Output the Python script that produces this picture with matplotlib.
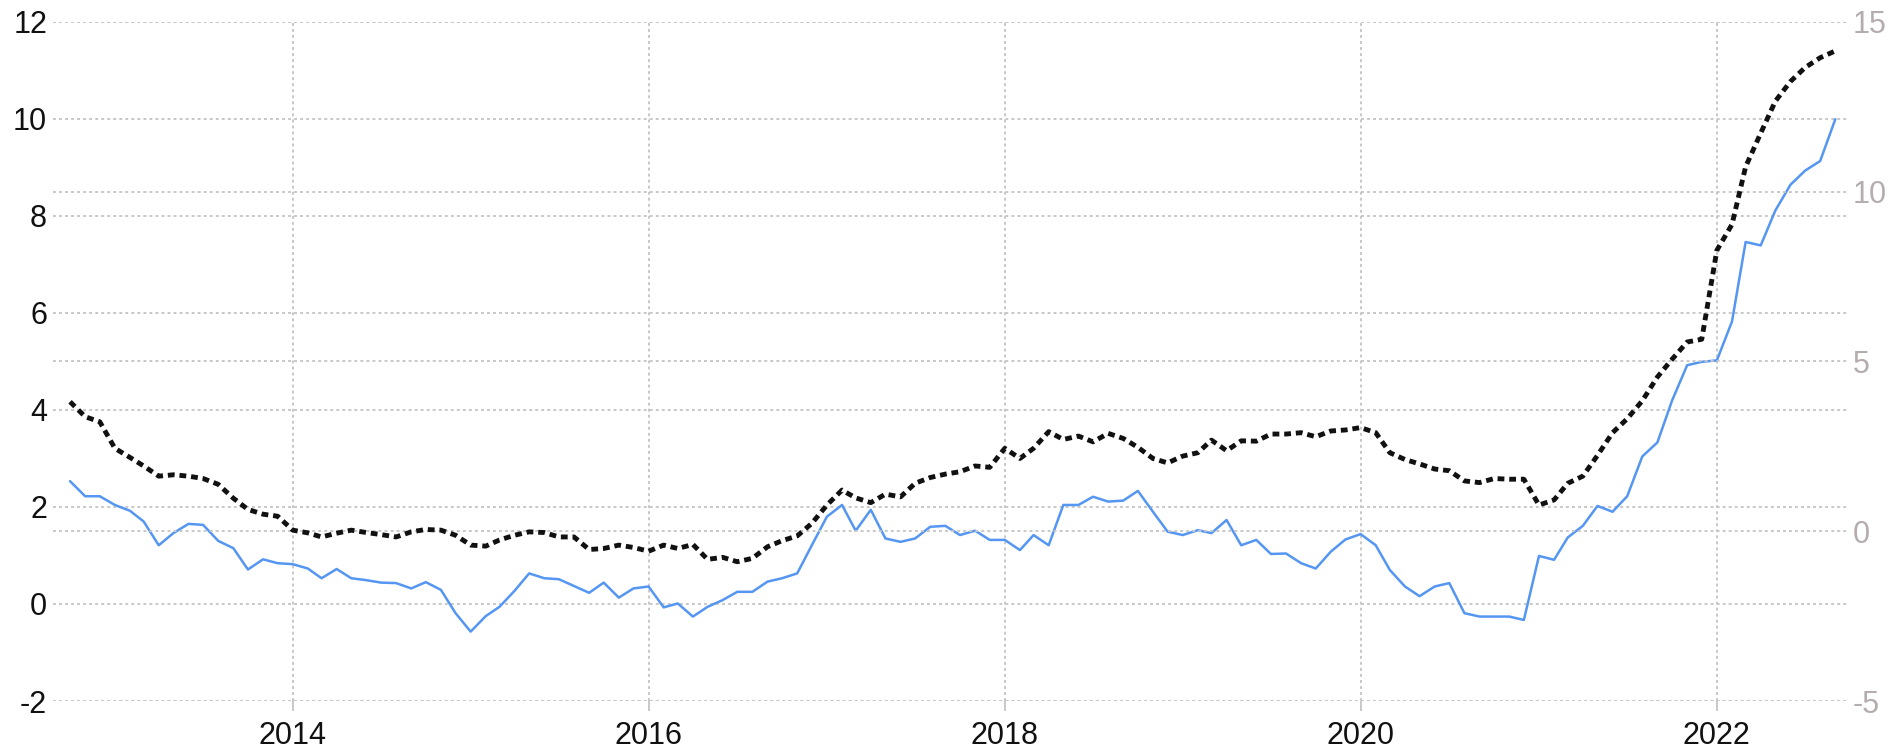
import numpy as np
import pandas as pd
import matplotlib
matplotlib.use('Agg')
import matplotlib.pyplot as plt
import matplotlib.font_manager as fm

# ---------------- data ----------------
months = pd.date_range('2012-10-01', periods=120, freq='MS')

blue_left = [
    2.53, 2.22, 2.22, 2.04, 1.92, 1.70, 1.21, 1.46, 1.65, 1.63, 1.30, 1.15, 0.71, 0.92, 0.84, 0.82, 0.73, 0.53, 0.72, 0.53,
    0.49, 0.44, 0.43, 0.32, 0.45, 0.29, -0.19, -0.57, -0.25, -0.06, 0.27, 0.63, 0.53, 0.51, 0.37, 0.23, 0.44, 0.13, 0.32, 0.36,
    -0.07, 0.01, -0.26, -0.06, 0.08, 0.25, 0.25, 0.46, 0.53, 0.63, 1.21, 1.80, 2.04, 1.51, 1.94, 1.35, 1.28, 1.35, 1.59, 1.61,
    1.42, 1.51, 1.32, 1.32, 1.11, 1.42, 1.21, 2.04, 2.04, 2.21, 2.11, 2.13, 2.33, 1.90, 1.49, 1.42, 1.52, 1.46, 1.73, 1.21,
    1.32, 1.03, 1.04, 0.84, 0.73, 1.08, 1.33, 1.44, 1.21, 0.70, 0.36, 0.16, 0.36, 0.43, -0.19, -0.26, -0.26, -0.26, -0.33, 0.99,
    0.91, 1.37, 1.61, 2.02, 1.90, 2.22, 3.04, 3.33, 4.19, 4.92, 4.99, 5.02, 5.82, 7.46, 7.39, 8.11, 8.64, 8.93, 9.13, 9.99,
]

black_right = [
    3.81, 3.37, 3.22, 2.44, 2.17, 1.92, 1.62, 1.66, 1.62, 1.55, 1.38, 0.97, 0.64, 0.50, 0.44, 0.03, -0.05, -0.17, -0.06, 0.03,
    -0.04, -0.10, -0.17, -0.02, 0.05, 0.03, -0.12, -0.41, -0.44, -0.26, -0.12, -0.02, -0.04, -0.17, -0.17, -0.54, -0.51, -0.41, -0.48, -0.59,
    -0.41, -0.51, -0.39, -0.83, -0.77, -0.90, -0.80, -0.46, -0.28, -0.14, 0.23, 0.77, 1.21, 0.98, 0.84, 1.09, 1.01, 1.41, 1.58, 1.68,
    1.75, 1.92, 1.88, 2.44, 2.14, 2.44, 2.93, 2.70, 2.80, 2.63, 2.88, 2.73, 2.47, 2.14, 2.01, 2.21, 2.31, 2.68, 2.37, 2.66,
    2.65, 2.86, 2.86, 2.90, 2.78, 2.95, 2.98, 3.05, 2.90, 2.31, 2.11, 1.98, 1.83, 1.78, 1.48, 1.43, 1.55, 1.53, 1.53, 0.77,
    0.92, 1.41, 1.62, 2.23, 2.90, 3.31, 3.84, 4.54, 5.06, 5.57, 5.65, 8.27, 9.03, 10.73, 11.72, 12.66, 13.24, 13.65, 13.94, 14.14,
]

left_ticks = [-2, 0, 2, 4, 6, 8, 10, 12]
right_ticks = [-5, 0, 5, 10, 15]
year_labels = ['2014', '2016', '2018', '2020', '2022']

# ---------------- font ----------------
available = {f.name for f in fm.fontManager.ttflist}
family = 'Liberation Sans Narrow' if 'Liberation Sans Narrow' in available else 'Liberation Sans'
plt.rcParams['font.family'] = [family, 'DejaVu Sans']
plt.rcParams['axes.unicode_minus'] = False
fsize = 26 if family == 'Liberation Sans Narrow' else 22

# ---------------- figure ----------------
fig = plt.figure(figsize=(18.98, 7.5), dpi=100)
ax = fig.add_axes([0.02792, 0.06533, 0.94521, 0.90574])
ax2 = ax.twinx()

grid_kw = dict(color='#c8c8c8', linewidth=1.4, linestyle=(0, (1.5, 1.6)))

ax.plot(months, blue_left, color='#5596f2', linewidth=1.8, zorder=3,
        solid_joinstyle='round', solid_capstyle='round')
ax2.plot(months, black_right, color='#111111', linewidth=3.5,
         linestyle=(0, (1.4, 1.0)), dash_capstyle='butt', zorder=3)

ax.set_xlim(pd.Timestamp('2012-08-27'), pd.Timestamp('2022-09-25'))
ax.set_ylim(left_ticks[0], left_ticks[-1])
ax2.set_ylim(right_ticks[0], right_ticks[-1])

ax.set_yticks(left_ticks)
ax2.set_yticks(right_ticks)
ax.set_xticks([pd.Timestamp(f'{y}-01-01') for y in year_labels])
ax.set_xticklabels(year_labels)

for a in (ax, ax2):
    for s in a.spines.values():
        s.set_visible(False)
    a.set_axisbelow(True)

ax.grid(True, axis='both', **grid_kw)
ax2.grid(True, axis='y', **grid_kw)

ax.tick_params(axis='y', length=0, pad=4.3, labelsize=fsize, labelcolor='#111111')
ax.tick_params(axis='x', length=7.2, width=1.4, color='#c8c8c8', pad=7,
               labelsize=fsize, labelcolor='#111111')
ax2.tick_params(axis='y', length=0, pad=4.3, labelsize=fsize, labelcolor='#b5adad')

fig.savefig('out.png', dpi=100)
